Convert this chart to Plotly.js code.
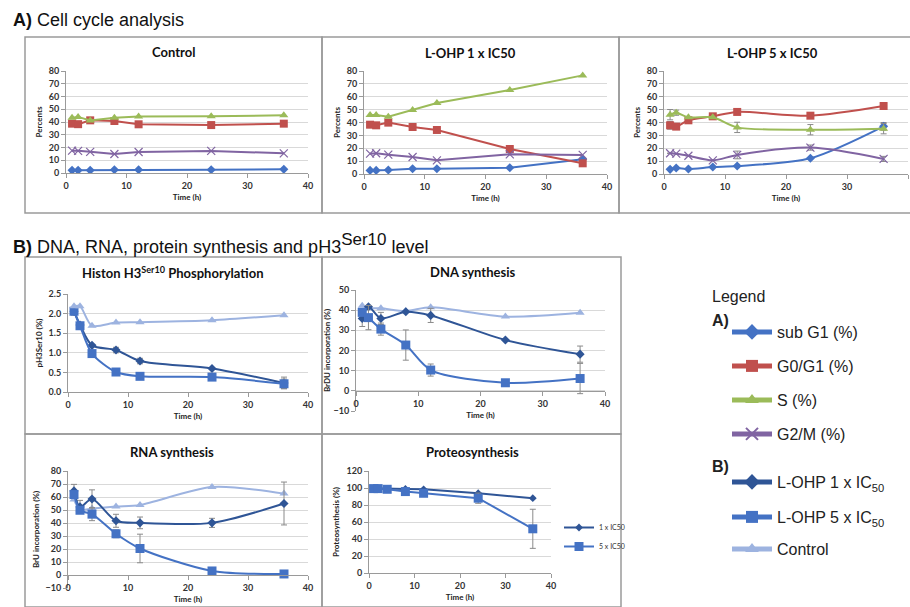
<!DOCTYPE html>
<html><head><meta charset="utf-8">
<script src="https://cdn.plot.ly/plotly-3.0.1.min.js"></script>
<style>html,body{margin:0;padding:0;background:#fff}#chart{width:910px;height:607px}</style>
</head><body><div id="chart"></div>
<script>
// ---------- DATA ----------
const times = [1, 2, 4, 8, 12, 24, 36];
// A) Cell cycle – Control
const ctrlSubG1 = [2.1, 2.1, 2.1, 2.6, 2.6, 2.6, 2.9];
const ctrlG0G1 = [38.7, 38.3, 41.3, 40.8, 38.2, 37.6, 38.7];
const ctrlS = [43.4, 44.0, 41.2, 43.3, 44.4, 44.5, 45.2];
const ctrlG2M = [17.5, 17.4, 16.6, 14.9, 16.5, 17.3, 15.4];
// A) L-OHP 1 x IC50
const l1SubG1 = [2.8, 2.8, 3.1, 4.1, 4.1, 4.9, 11.4];
const l1G0G1 = [38.3, 37.8, 39.9, 36.5, 34.2, 19.4, 8.3];
const l1S = [45.8, 45.8, 44.5, 49.7, 55.2, 65.2, 76.6];
const l1G2M = [15.8, 16.1, 15.0, 13.2, 10.6, 15.3, 14.8];
// A) L-OHP 5 x IC50
const l5SubG1 = [3.6, 4.7, 3.9, 5.4, 6.2, 12.2, 37.0];
const l5G0G1 = [37.8, 36.8, 41.7, 44.8, 48.2, 45.3, 52.8];
const l5S = [46.1, 47.6, 44.0, 44.0, 36.2, 34.4, 35.2];
const l5G2M = [16.1, 15.8, 14.2, 10.6, 14.8, 20.5, 11.7];
const l5SubG1Err = [0, 0, 0, 0, 0, 0, 3];
const l5G0G1Err = [3, 0, 0, 0, 0, 0, 0];
const l5SErr = [4, 2, 0, 0, 4, 4, 4];
const l5G2MErr = [0, 0, 0, 0, 3, 2, 2];
// B) Histon H3 Ser10 phosphorylation
const h3L1 = [2.06, 1.71, 1.19, 1.07, 0.79, 0.60, 0.23];
const h3L5 = [2.06, 1.69, 0.98, 0.51, 0.40, 0.38, 0.21];
const h3Ctrl = [2.19, 2.19, 1.69, 1.77, 1.78, 1.83, 1.96];
const h3L1Err = [0.10, 0, 0, 0.07, 0.07, 0, 0.15];
const h3L5Err = [0.05, 0, 0.08, 0, 0, 0.05, 0.12];
// B) DNA synthesis
const dnaL1 = [35.9, 41.7, 35.9, 39.2, 37.4, 25.2, 18.2];
const dnaL5 = [38.9, 36.3, 30.6, 22.7, 10.3, 4.0, 6.1];
const dnaCtrl = [42.2, 41.0, 40.9, 39.6, 41.4, 36.8, 38.7];
const dnaL1Err = [4, 0, 3, 0, 3.5, 0, 4];
const dnaL5Err = [0, 6, 3, 7.5, 3, 0, 7.5];
// B) RNA synthesis
const rnaL1 = [64.7, 52.4, 58.5, 41.7, 40.1, 40.1, 55.0];
const rnaL5 = [61.9, 49.8, 46.8, 31.7, 20.4, 3.1, 0.8];
const rnaCtrl = [58.0, 50.4, 51.1, 52.7, 53.9, 67.7, 62.6];
const rnaL1Err = [5, 5, 7, 5, 4.5, 3.5, 16.5];
const rnaL5Err = [0, 0, 5, 3, 11, 0, 0];
// B) Proteosynthesis
const protL1 = [99.7, 99.7, 98.9, 98.9, 98.5, 93.8, 88.0];
const protL5 = [99.3, 99.3, 98.5, 95.8, 93.8, 88.0, 52.0];
const protL5Err = [0, 0, 0, 0, 0, 6, 23];

// ---------- STYLE ----------
const W = 910, H = 607;
const px = v => v / W, py = v => 1 - v / H;
const cSub = '#4472C4', cG0 = '#C0504D', cS = '#9BBB59', cG2 = '#8064A2';
const cL1 = '#2F5596', cL5 = '#4472C4', cCtl = '#9DB3E0';
const chartFont = 'Lato, "Open Sans", sans-serif';
const tickFont = {family: chartFont, size: 9, color: '#333', weight: 'bold'};
const axTitleFont = {family: chartFont, size: 8, color: '#222', weight: 'bold'};
const errStyle = arr => ({type: 'data', array: arr, visible: true, color: '#8a8a8a', thickness: 1, width: 3});

function xax(x0, x1, anchor, extra) {
  return Object.assign({
    domain: [px(x0), px(x1)], anchor: anchor, range: [0, 40], tick0: 0, dtick: 10,
    showgrid: false, zeroline: false, showline: true, linecolor: '#9a9a9a', linewidth: 1,
    ticks: 'outside', ticklen: 4, tickcolor: '#9a9a9a', tickfont: tickFont,
    title: {text: 'Time (h)', font: axTitleFont, standoff: 4}, fixedrange: true
  }, extra || {});
}
function yax(y0, y1, anchor, range, dtick, title, standoff, extra) {
  return Object.assign({
    domain: [py(y1), py(y0)], anchor: anchor, range: range, tick0: 0, dtick: dtick,
    showgrid: true, gridcolor: '#d9d9d9', gridwidth: 1, zeroline: false,
    showline: true, linecolor: '#9a9a9a', ticks: 'outside', ticklen: 4, tickcolor: '#9a9a9a',
    tickfont: tickFont, title: {text: title, font: axTitleFont, standoff: standoff}, fixedrange: true
  }, extra || {});
}

function tr(y, xa, ya, color, symbol, size, opts) {
  const o = opts || {};
  const t = {
    type: 'scatter', mode: 'lines+markers', x: times, y: y, xaxis: xa, yaxis: ya,
    line: {color: color, width: 2, shape: o.shape || 'linear', smoothing: 0.8},
    marker: {color: color, symbol: symbol, size: size},
    showlegend: !!o.name, name: o.name || '', hoverinfo: 'skip'
  };
  if (symbol === 'x-thin') t.marker.line = {color: color, width: 1.2};
  if (o.err) t.error_y = errStyle(o.err);
  if (o.legend) t.legend = o.legend;
  return t;
}

const data = [
  // Control
  tr(ctrlSubG1, 'x', 'y', cSub, 'diamond', 7, {name: 'sub G1 (%)', legend: 'legend'}),
  tr(ctrlG0G1, 'x', 'y', cG0, 'square', 8, {name: 'G0/G1 (%)', legend: 'legend2'}),
  tr(ctrlS, 'x', 'y', cS, 'triangle-up', 8, {name: 'S (%)', legend: 'legend3'}),
  tr(ctrlG2M, 'x', 'y', cG2, 'x-thin', 8, {name: 'G2/M (%)', legend: 'legend4'}),
  // L-OHP 1
  tr(l1SubG1, 'x2', 'y2', cSub, 'diamond', 7),
  tr(l1G0G1, 'x2', 'y2', cG0, 'square', 8),
  tr(l1S, 'x2', 'y2', cS, 'triangle-up', 8),
  tr(l1G2M, 'x2', 'y2', cG2, 'x-thin', 8),
  // L-OHP 5
  tr(l5SubG1, 'x3', 'y3', cSub, 'diamond', 7, {shape: 'spline', err: l5SubG1Err}),
  tr(l5G0G1, 'x3', 'y3', cG0, 'square', 8, {shape: 'spline', err: l5G0G1Err}),
  tr(l5S, 'x3', 'y3', cS, 'triangle-up', 8, {shape: 'spline', err: l5SErr}),
  tr(l5G2M, 'x3', 'y3', cG2, 'x-thin', 8, {shape: 'spline', err: l5G2MErr}),
  // Histon
  tr(h3L1, 'x4', 'y4', cL1, 'diamond', 7, {shape: 'spline', err: h3L1Err, name: 'L-OHP 1 x IC<sub>50</sub>', legend: 'legend5'}),
  tr(h3L5, 'x4', 'y4', cL5, 'square', 9, {shape: 'spline', err: h3L5Err, name: 'L-OHP 5 x IC<sub>50</sub>', legend: 'legend6'}),
  tr(h3Ctrl, 'x4', 'y4', cCtl, 'triangle-up', 8, {shape: 'spline', name: 'Control', legend: 'legend7'}),
  // DNA
  tr(dnaCtrl, 'x5', 'y5', cCtl, 'triangle-up', 8, {shape: 'spline'}),
  tr(dnaL1, 'x5', 'y5', cL1, 'diamond', 7, {shape: 'spline', err: dnaL1Err}),
  tr(dnaL5, 'x5', 'y5', cL5, 'square', 9, {shape: 'spline', err: dnaL5Err}),
  // RNA
  tr(rnaCtrl, 'x6', 'y6', cCtl, 'triangle-up', 8, {shape: 'spline'}),
  tr(rnaL1, 'x6', 'y6', cL1, 'diamond', 7, {shape: 'spline', err: rnaL1Err}),
  tr(rnaL5, 'x6', 'y6', cL5, 'square', 9, {shape: 'spline', err: rnaL5Err}),
  // Proteo
  tr(protL1, 'x7', 'y7', cL1, 'diamond', 6, {name: '1 x IC50', legend: 'legend8'}),
  tr(protL5, 'x7', 'y7', cL5, 'square', 9, {err: protL5Err, name: '5 x IC50', legend: 'legend8'})
];

const legBase = (yy) => ({
  x: px(727), y: py(yy), xanchor: 'left', yanchor: 'middle', bgcolor: 'rgba(0,0,0,0)',
  font: {family: 'Liberation Sans, Arial, sans-serif', size: 16, color: '#222'},
  itemsizing: 'constant', itemwidth: 40, itemclick: false, itemdoubleclick: false
});

const titleFont = {family: chartFont, size: 13, color: '#111', weight: 'bold'};
const ann = (t, x, y, font, xa) => ({text: t, x: px(x), y: py(y), xref: 'paper', yref: 'paper',
  xanchor: xa || 'center', yanchor: 'middle', showarrow: false, font: font});
const secFont = {family: 'Liberation Sans, Arial, sans-serif', size: 18, color: '#111'};
const legHeadFont = {family: 'Liberation Sans, Arial, sans-serif', size: 16, color: '#222'};

const boxLine = {color: '#9a9a9a', width: 1.5};
const rect = (x0, y0, x1, y1) => ({type: 'rect', xref: 'paper', yref: 'paper',
  x0: px(x0), x1: px(x1), y0: py(y1), y1: py(y0), line: boxLine, fillcolor: 'rgba(0,0,0,0)'});

const layout = {
  width: W, height: H, margin: {l: 0, r: 0, t: 0, b: 0}, paper_bgcolor: '#fff', plot_bgcolor: 'rgba(0,0,0,0)',
  xaxis: xax(66, 308, 'y'), yaxis: yax(71, 173, 'x', [0, 80], 10, 'Percents', 4),
  xaxis2: xax(364, 607, 'y2'), yaxis2: yax(71, 174, 'x2', [0, 80], 10, 'Percents', 4),
  xaxis3: xax(664, 908, 'y3'), yaxis3: yax(71, 174, 'x3', [0, 80], 10, 'Percents', 4),
  xaxis4: xax(68, 308, 'y4'), yaxis4: yax(294, 392, 'x4', [0, 2.5], 0.5, 'pH3Ser10 (%)', 4, {tickformat: '.1f'}),
  xaxis5: xax(356, 605, 'free', {position: py(391)}), yaxis5: yax(290, 411, 'x5', [-10, 50], 10, 'BrDU incorporation (%)', 1),
  xaxis6: xax(68, 308, 'free', {position: py(575)}), yaxis6: yax(471, 588, 'x6', [-10, 80], 10, 'BrU incorporation (%)', 4),
  xaxis7: xax(369, 551, 'y7'), yaxis7: yax(471, 573, 'x7', [0, 120], 20, 'Proteosynthesis (%)', 5),
  legend: legBase(332), legend2: legBase(366), legend3: legBase(400), legend4: legBase(434),
  legend5: legBase(482), legend6: legBase(517), legend7: legBase(549),
  legend8: Object.assign(legBase(537), {x: px(559), font: {family: chartFont, size: 7, color: '#333'}, itemsizing: 'trace', itemwidth: 30, tracegroupgap: 0}),
  shapes: [
    rect(25, 37, 322, 213), rect(322, 37, 619, 213), rect(619, 37, 912, 213),
    rect(25, 257, 322, 434), rect(322, 257, 621, 434), rect(25, 434, 322, 607), rect(322, 434, 621, 607)
  ],
  annotations: [
    ann('<b>A)</b> Cell cycle analysis', 11, 20, secFont, 'left'),
    ann('<b>B)</b> DNA, RNA, protein synthesis and pH3<sup><span style="font-size:17px">Ser10</span></sup> level', 11, 243, secFont, 'left'),
    ann('Control', 173, 52, titleFont), ann('L-OHP 1 x IC50', 470, 53, titleFont), ann('L-OHP 5 x IC50', 772, 53, titleFont),
    ann('Histon H3<sup>Ser10</sup> Phosphorylation', 173, 272, titleFont), ann('DNA synthesis', 472, 272, titleFont),
    ann('RNA synthesis', 172, 452, titleFont), ann('Proteosynthesis', 472, 452, titleFont),
    ann('Legend', 710, 296, legHeadFont, 'left'),
    ann('<b>A)</b>', 710, 320, legHeadFont, 'left'), ann('<b>B)</b>', 710, 466, legHeadFont, 'left')
  ]
};

Plotly.newPlot('chart', data, layout, {staticPlot: true, displayModeBar: false});
</script>
</body></html>
